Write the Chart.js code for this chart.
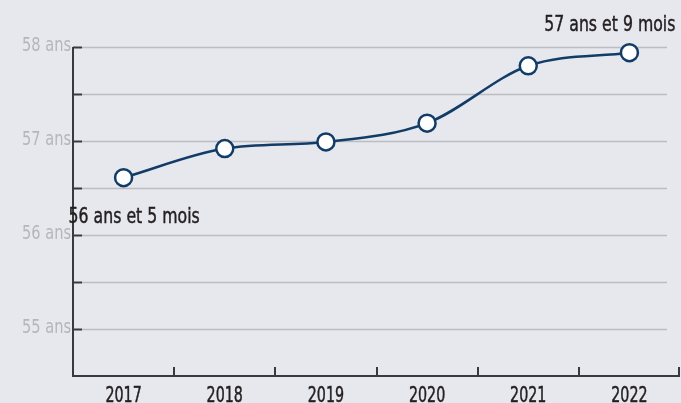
<!DOCTYPE html>
<html>
<head>
<meta charset="utf-8">
<script src="https://cdn.jsdelivr.net/npm/chart.js@4.4.1/dist/chart.umd.min.js"></script>
<style>
  body { margin: 0; background: #e7e8ed; }
  #wrap { width: 681px; height: 403px; }
</style>
</head>
<body>
<div id="wrap"><canvas id="ageChart" width="681" height="403"></canvas></div>
<script>
// années et âge moyen (en années décimales)
const years = ['2017', '2018', '2019', '2020', '2021', '2022'];
const ages = [56.61, 56.92, 56.99, 57.19, 57.80, 57.94];
const yTicks = [55, 56, 57, 58];
const firstNote = '56 ans et 5 mois';
const lastNote = '57 ans et 9 mois';

const FONT = '"DejaVu Sans", sans-serif';
const BG = '#e7e8ed';
const NAVY = '#123c68';
const AXIS = '#3a3a3c';
const GRID = '#bdbdc1';
const TEXT = '#231f20';

// condensed text: no narrow font available, so squeeze horizontally
function narrowText(ctx, txt, x, y, size, sx, align, color, heavy) {
    ctx.save();
    ctx.translate(x, y);
    ctx.scale(sx, 1);
    ctx.font = size + 'px ' + FONT;
    ctx.fillStyle = color;
    ctx.textAlign = align;
    ctx.textBaseline = 'alphabetic';
    ctx.fillText(txt, 0, 0);
    if (heavy) {
        ctx.strokeStyle = color;
        ctx.lineWidth = 0.5;
        ctx.strokeText(txt, 0, 0);
    }
    ctx.restore();
}

// background, gridlines, axes, inside ticks and all labels
const frame = {
    id: 'frame',
    beforeDraw(chart) {
        const ctx = chart.ctx;
        ctx.save();
        ctx.fillStyle = BG;
        ctx.fillRect(0, 0, chart.width, chart.height);
        ctx.restore();
    },
    beforeDatasetsDraw(chart) {
        const ctx = chart.ctx;
        const area = chart.chartArea;
        const x = chart.scales.x, y = chart.scales.y;
        const tick = 9;
        ctx.save();

        // horizontal gridlines
        ctx.strokeStyle = GRID;
        ctx.lineWidth = 1.5;
        for (let v = y.min + 0.5; v <= y.max + 0.001; v += 0.5) {
            const py = Math.round(y.getPixelForValue(v)) + 0.5;
            ctx.beginPath();
            ctx.moveTo(area.left + tick, py);
            ctx.lineTo(area.right - 13, py);
            ctx.stroke();
        }

        // axes
        ctx.strokeStyle = AXIS;
        ctx.lineWidth = 2;
        ctx.beginPath();
        ctx.moveTo(area.left, y.getPixelForValue(y.max));
        ctx.lineTo(area.left, area.bottom);
        ctx.lineTo(area.right, area.bottom);
        ctx.stroke();

        // y ticks
        for (let v = y.min + 0.5; v <= y.max + 0.001; v += 0.5) {
            const py = Math.round(y.getPixelForValue(v)) + 0.5;
            ctx.beginPath();
            ctx.moveTo(area.left, py);
            ctx.lineTo(area.left + tick, py);
            ctx.stroke();
        }

        // x ticks at category boundaries
        const half = (x.getPixelForValue(1) - x.getPixelForValue(0)) / 2;
        for (let i = 0; i < years.length; i++) {
            const px = Math.min(Math.round(x.getPixelForValue(i) + half), area.right - 1);
            ctx.beginPath();
            ctx.moveTo(px, area.bottom);
            ctx.lineTo(px, area.bottom - tick);
            ctx.stroke();
        }
        ctx.restore();

        // tick labels
        yTicks.forEach(v => {
            narrowText(ctx, v + ' ans', area.left - 2, y.getPixelForValue(v) + 4, 20, 0.73, 'right', '#b5b6ba', false);
        });
        years.forEach((lab, i) => {
            narrowText(ctx, lab, x.getPixelForValue(i), area.bottom + 26, 21, 0.68, 'center', TEXT, true);
        });
    },
    afterDatasetsDraw(chart) {
        const ctx = chart.ctx;
        const pts = chart.getDatasetMeta(0).data;
        const p0 = pts[0];
        narrowText(ctx, firstNote, p0.x - 55, p0.y + 45, 22, 0.715, 'left', TEXT, true);
        const pn = pts[pts.length - 1];
        narrowText(ctx, lastNote, pn.x + 46, pn.y - 22, 22, 0.715, 'right', TEXT, true);
    }
};

new Chart(document.getElementById('ageChart'), {
    type: 'line',
    data: {
        labels: years,
        datasets: [{
            data: ages,
            borderColor: NAVY,
            borderWidth: 2.5,
            cubicInterpolationMode: 'monotone',
            pointRadius: 8.5,
            pointBorderWidth: 2.5,
            pointBackgroundColor: '#ffffff',
            pointBorderColor: NAVY,
            clip: false
        }]
    },
    options: {
        responsive: false,
        animation: false,
        layout: { autoPadding: false, padding: { top: 47, right: 1, left: 0, bottom: 0 } },
        plugins: { legend: { display: false }, tooltip: { enabled: false } },
        scales: {
            x: {
                offset: true,
                grid: { display: false, drawTicks: false },
                border: { display: false },
                ticks: { display: false },
                afterFit(scale) { scale.height = 27; }
            },
            y: {
                min: 54.5,
                max: 58,
                grid: { display: false, drawTicks: false },
                border: { display: false },
                ticks: { display: false, stepSize: 0.5 },
                afterFit(scale) { scale.width = 73; }
            }
        }
    },
    plugins: [frame]
});
</script>
</body>
</html>
